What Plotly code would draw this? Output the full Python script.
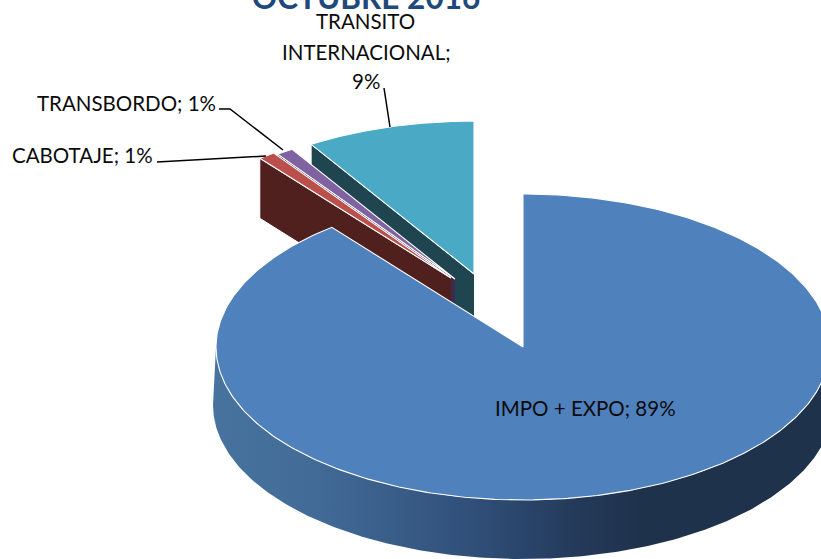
import numpy as np
import plotly.graph_objects as go

categories = ["IMPO + EXPO", "CABOTAJE", "TRANSBORDO", "TRANSITO INTERNACIONAL"]
values = [89.3, 0.9, 0.9, 8.9]
labels_pct = ["89%", "1%", "1%", "9%"]
top_colors = ["#4f81bd", "#bb4f4b", "#7f62a1", "#4aa9c4"]
wall_colors = ["#1f324c", "#4f201e", "#3b2c4e", "#1f4650"]
centers = [(523, 347), (451, 278), (455, 279), (474, 274)]
title = "OCTUBRE 2016"

RX, RY, DEPTH = 307, 153, 60
FONT = "Lato"

angles = np.concatenate([[0], np.cumsum(values)]) * 3.6


def rim(cx, cy, a0, a1, rx=RX, ry=RY, n=160):
    t = np.radians(np.linspace(a0, a1, n))
    return cx + rx * np.sin(t), cy - ry * np.cos(t)


fig = go.Figure()


def add(x, y, fill, line=None, width=0, name=None, **kw):
    fig.add_trace(go.Scatter(
        x=list(x), y=list(y), mode="lines", fill="toself", fillcolor=fill,
        line=dict(color=line or fill, width=width), hoverinfo="skip",
        showlegend=False, name=name, **kw))


# small slices back to front, each with its radial wall and then its top
for i in [3, 2, 1]:
    cx, cy = centers[i]
    a0, a1 = angles[i], angles[i + 1]
    ex, ey = rim(cx, cy, a0, a0, n=1)
    add([cx, ex[0], ex[0], cx], [cy, ey[0], ey[0] + DEPTH, cy + DEPTH],
        wall_colors[i], line="#ffffff", width=1, name=categories[i] + " wall")
    rx_, ry_ = rim(cx, cy, a0, a1)
    add(np.r_[cx, rx_, cx], np.r_[cy, ry_, cy], top_colors[i], line="#ffffff",
        width=1.1, name=categories[i])

# main slice: graded outer wall, then top
cx, cy = centers[0]
tx, ty = rim(cx, cy, 90, 270, n=240)
bx, by = rim(cx, cy + 58, 270, 90, rx=RX + 3, ry=RY + 1, n=240)
fig.add_trace(go.Scatter(
    x=np.r_[tx, bx], y=np.r_[ty, by], mode="lines", fill="toself",
    line=dict(width=0, color="#1f324c"), hoverinfo="skip", showlegend=False,
    name=categories[0] + " wall",
    fillgradient=dict(type="horizontal", start=213, stop=640, colorscale=[
        [0, "#47739f"], [0.25, "#426a97"], [0.6, "#30507a"], [0.85, "#243a5a"], [1, "#1f324c"]])))
rx_, ry_ = rim(cx, cy, angles[0], angles[1], n=400)
add(np.r_[cx, rx_, cx], np.r_[cy, ry_, cy], top_colors[0], line="#ffffff",
    width=1.1, name=categories[0])

# leader lines
shapes = [
    dict(type="path", path="M 157 162 L 266 156", line=dict(color="#000", width=1.5)),
    dict(type="path", path="M 219 109 L 230 109 L 283 150", line=dict(color="#000", width=1.5)),
    dict(type="path", path="M 384 88 L 390 127", line=dict(color="#000", width=1.5)),
]

lab = lambda t, x, y: dict(text=t, x=x, y=y, xref="x", yref="y", showarrow=False,
                           xanchor="center", yanchor="middle",
                           font=dict(family=FONT, size=20.5, color="#0b0b0b"))
annotations = [
    lab(f"{categories[0]}; {labels_pct[0]}", 585, 408),
    lab(f"{categories[1]}; {labels_pct[1]}", 82, 155),
    lab(f"{categories[2]}; {labels_pct[2]}", 126, 103),
    lab("TRANSITO", 365, 21),
    lab("INTERNACIONAL;", 366, 52),
    lab(labels_pct[3], 366, 81),
]

fig.update_layout(
    width=821, height=559, margin=dict(l=0, r=0, t=0, b=0),
    paper_bgcolor="white", plot_bgcolor="white", showlegend=False,
    title=dict(text=f"<b>{title}</b>", x=366 / 821, xanchor="center",
               y=1 - 9 / 559, yanchor="bottom", pad=dict(t=0, b=0),
               font=dict(family=FONT, size=31.5, color="#1f497d")),
    xaxis=dict(range=[0, 821], visible=False, fixedrange=True),
    yaxis=dict(range=[559, 0], visible=False, fixedrange=True),
    shapes=shapes, annotations=annotations,
)
fig.write_html("out.html", config=dict(displayModeBar=False),
               post_script="document.body.style.margin='0';document.documentElement.style.overflow='hidden';")
